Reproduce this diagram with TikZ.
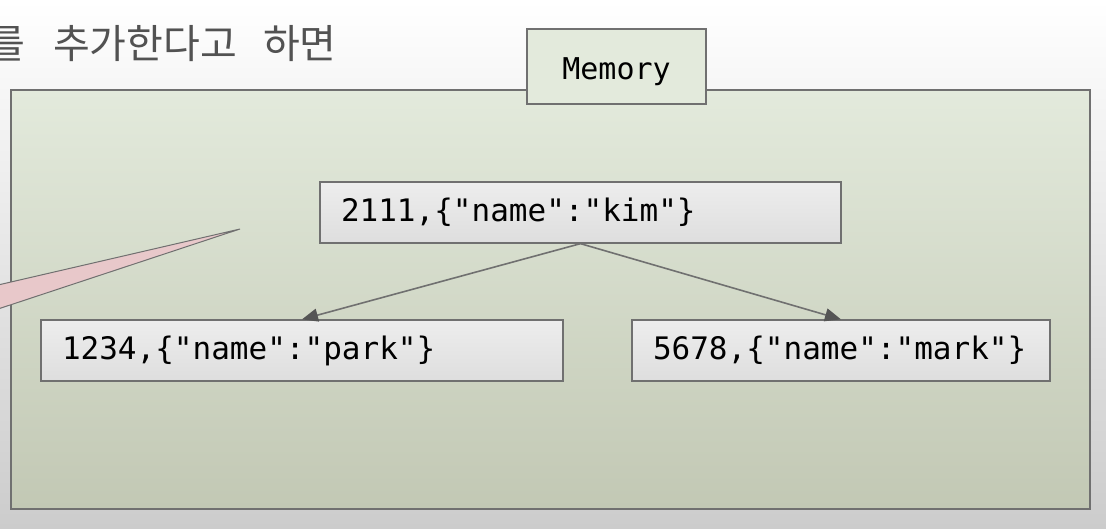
\documentclass[tikz,border=0pt]{standalone}
\usepackage{fontspec}
\setmonofont{DejaVu Sans Mono}
\newfontfamily\kofont{Noto Sans CJK KR}
\usetikzlibrary{arrows.meta}
\definecolor{memgreen}{HTML}{E3EADC}
\definecolor{memdark}{HTML}{C2C8B4}
\definecolor{linegray}{HTML}{707070}
\definecolor{tipgray}{HTML}{555555}
\definecolor{wedgepink}{HTML}{E8C8CA}
\begin{document}
\begin{tikzpicture}[x=1pt, y=-1pt,
		entry/.style={draw=linegray, line width=1.3pt, top color=white!93!black, bottom color=white!87!black,
			inner xsep=21pt, inner ysep=0pt, minimum height=61pt, align=left,
			font=\ttfamily\fontsize{31}{36}\selectfont},
		link/.style={draw=linegray, line width=1.6pt, -{Triangle[length=16pt, width=13pt, color=tipgray]}}]
		\clip (0,0) rectangle (1106,529);
		\shade[top color=white, middle color=white!95!black, bottom color=white!80!black] (0,0) rectangle (1106,529);
		
		\node (title) at (337, 44) [anchor=east, inner sep=0pt, text=black!68, font=\kofont\fontsize{40}{44}\selectfont]{를\hspace{28pt}추가한다고\hspace{26pt}하면};
		
		\shade[top color=memgreen, middle color=memgreen!92!black, bottom color=memdark] (11,90) rectangle (1090,509);
		\draw[linegray, line width=1.8pt] (11,90) rectangle (1090,509);
		\node (memory) at (616.5, 66.5) [draw=linegray, line width=1.3pt, fill=memgreen, minimum width=179pt, minimum height=75pt, text height=27pt, text depth=0pt, font=\ttfamily\fontsize{30}{36}\selectfont]{Memory};
		
		\filldraw[fill=wedgepink, draw=linegray, line width=1pt] (-2, 285) -- (240, 229) -- (-2, 309) -- cycle;
		
		\node (kim) at (580.5, 212.5) [entry, text width=479pt]{2111,\{"name":"kim"\}};
		\node (park) at (302, 350.5) [entry, text width=480pt]{1234,\{"name":"park"\}};
		\node (mark) at (841, 350.5) [entry, text width=376pt]{5678,\{"name":"mark"\}};
		
		\draw[link] (kim.south) -- (park.north);
		\draw[link] (kim.south) -- (mark.north);
	\end{tikzpicture}
\end{document}
